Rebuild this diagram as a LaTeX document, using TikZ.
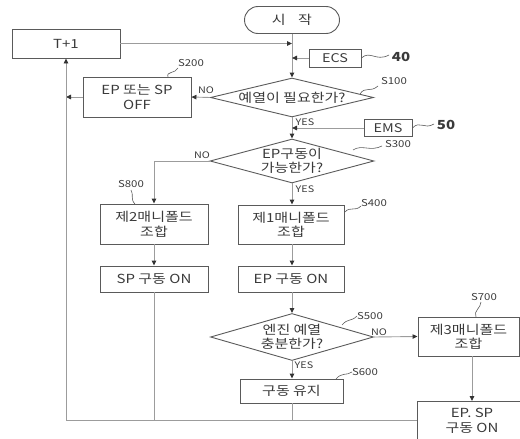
\documentclass[tikz,border=0pt]{standalone}
\usepackage{fontspec}
\setmainfont{Noto Sans CJK KR}[FakeStretch=1.2]
\usetikzlibrary{shapes.geometric,arrows.meta}
\definecolor{bxc}{HTML}{5A5A5A}
\definecolor{lnc}{HTML}{9C9C9C}
\definecolor{txc}{HTML}{3A3A3A}
\begin{document}
\begin{tikzpicture}[x=1pt,y=-1pt,
  box/.style={draw=bxc, line width=0.9pt, text=txc, align=center, inner sep=0pt,
    font=\fontsize{12.5}{14.5}\selectfont},
  smallbox/.style={box, font=\fontsize{12}{14}\selectfont},
  dia/.style={draw=bxc, line width=0.9pt, diamond, inner sep=0pt},
  dtext/.style={text=txc, align=center, font=\fontsize{12.5}{14.5}\selectfont},
  conn/.style={draw=lnc, line width=0.9pt},
  arr/.style={conn, -{Triangle[length=5pt,width=4.5pt,color=black!80]}},
  yn/.style={text=txc, font=\fontsize{9}{10}\selectfont, inner sep=0pt},
  stp/.style={text=txc, font=\fontsize{9.5}{10}\selectfont, inner sep=0pt},
  refnum/.style={text=txc, font=\bfseries\fontsize{12.5}{14}\selectfont, inner sep=0pt},
  sq/.style={draw=bxc, line width=0.6pt}
]
\useasboundingbox (0,0) rectangle (520,439);
\clip (0,0) rectangle (520,439);

% nodes
\node[box, rounded corners=13.5pt, minimum width=95, minimum height=27] (start) at (292,20) {시\quad 작};
\node[box, minimum width=108, minimum height=29] (t1) at (66,43.5) {T+1};
\node[smallbox, minimum width=52, minimum height=18] (ecs) at (335,58) {ECS};
\node[smallbox, minimum width=48, minimum height=17] (ems) at (388,128) {EMS};
\node[dia, minimum width=163, minimum height=39] (d1) at (292,97.5) {};
\node[dtext] (d1t) at (292,98) {예열이 필요한가?};
\node[box, minimum width=108, minimum height=40] (s200) at (137,97) {EP 또는 SP\\OFF};
\node[dia, minimum width=164, minimum height=44] (d2) at (292,161) {};
\node[dtext] (d2t) at (292,161) {EP구동이\\가능한가?};
\node[box, minimum width=108, minimum height=40] (s800) at (154,224) {제2매니폴드\\조합};
\node[box, minimum width=108, minimum height=26] (spon) at (154,279) {SP 구동 ON};
\node[box, minimum width=106, minimum height=39] (s400) at (291,224.5) {제1매니폴드\\조합};
\node[box, minimum width=106, minimum height=26] (epon) at (291,279) {EP 구동 ON};
\node[dia, minimum width=163, minimum height=47] (d3) at (292,337) {};
\node[dtext] (d3t) at (292,337) {엔진 예열\\충분한가?};
\node[box, minimum width=101, minimum height=39] (s700) at (468.5,336.5) {제3매니폴드\\조합};
\node[box, minimum width=103, minimum height=24] (s600) at (291.5,391) {구동 유지};
\node[box, anchor=north west, minimum width=125, minimum height=60] (epsp) at (417,401) {};
\node[dtext] (epspt) at (472,421) {EP. SP\\구동 ON};
\coordinate (bl) at (66,420);

% labels
\node[yn] (no1) at (206,90) {NO};
\node[yn] (yes1) at (305,122) {YES};
\node[yn] (no2) at (202,155) {NO};
\node[yn] (yes2) at (305,189) {YES};
\node[yn] (no3) at (379,332) {NO};
\node[yn] (yes3) at (304,365) {YES};
\node[stp] (l100) at (394,81) {S100};
\node[stp] (l200) at (191,63) {S200};
\node[stp] (l300) at (398,144) {S300};
\node[stp] (l400) at (374,203) {S400};
\node[stp] (l500) at (370,316) {S500};
\node[stp] (l600) at (365,372) {S600};
\node[stp] (l700) at (484,297) {S700};
\node[stp] (l800) at (131,184) {S800};
\node[refnum] (n40) at (401,57) {40};
\node[refnum] (n50) at (446,125) {50};

% connectors
\draw[arr] (start.south) -- (d1.north);
\draw[arr] (t1.east) -- (t1.east -| start.south);
\draw[arr] (ecs.west) -- (ecs.west -| start.south);
\draw[arr] (d1.west) -- (s200.east);
\draw[arr] (s200.west) -- (s200.west -| bl);
\draw[arr] (d1.south) -- (d2.north);
\draw[arr] (ems.west) -- (ems.west -| d1.south);
\draw[arr] (d2.west) -- (d2.west -| s800.north) -- (s800.north);
\draw[arr] (s800.south) -- (spon.north);
\draw[arr] (d2.south) -- (s400.north -| d2.south);
\draw[arr] (s400.south -| d2.south) -- (epon.north -| d2.south);
\draw[arr] (epon.south -| d2.south) -- (d3.north);
\draw[arr] (d3.east) -- (s700.west);
\draw[arr] (d3.south) -- (s600.north -| d3.south);
\draw[arr] (s700.south -| epspt) -- (epsp.north -| epspt);
\draw[conn] (spon.south) -- (spon.south |- bl);
\draw[conn] (s600.south -| d3.south) -- (d3.south |- bl);
\draw[conn] (epsp.west |- bl) -- (bl);
\draw[arr] (bl) -- (t1.south);

% squiggles
\draw[sq] (360,94) .. controls (365,86) and (370,93) .. (378,86);
\draw[sq] (168,77) .. controls (166,71) and (175,74) .. (178,68);
\draw[sq] (353,150) .. controls (362,144) and (370,152) .. (382,146);
\draw[sq] (345,212) .. controls (350,206) and (355,212) .. (361,206);
\draw[sq] (342,325) .. controls (348,318) and (351,322) .. (357,316);
\draw[sq] (336,379) .. controls (342,372) and (346,376) .. (352,372);
\draw[sq] (476,317) .. controls (473,311) and (481,308) .. (481,302);
\draw[sq] (135,204) .. controls (130,199) and (134,195) .. (131,190);
\draw[sq] (ecs.east) .. controls (370,50) and (376,62) .. (389,55);
\draw[sq] (ems.east) .. controls (420,120) and (424,130) .. (434,124);
\end{tikzpicture}
\end{document}
